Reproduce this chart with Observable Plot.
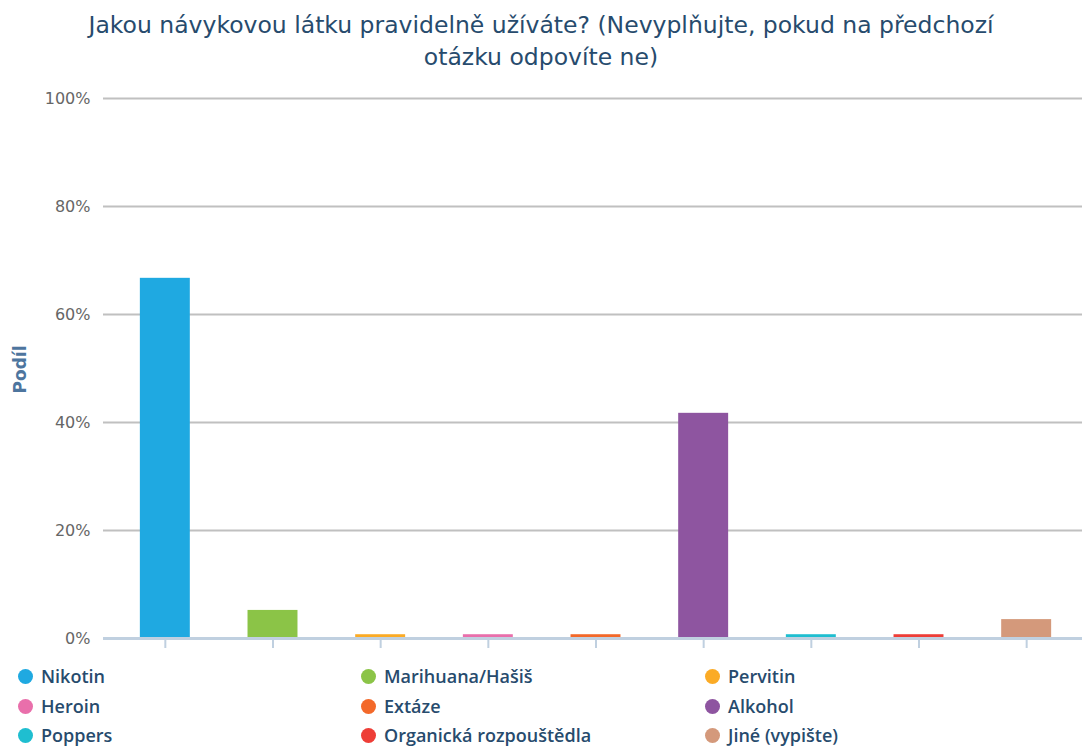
<!DOCTYPE html>
<html>
<head>
<meta charset="utf-8">
<script src="https://cdn.jsdelivr.net/npm/d3@7"></script>
<script src="https://cdn.jsdelivr.net/npm/@observablehq/plot@0.6"></script>
<style>
  body { margin: 0; background: #fff; font-family: "DejaVu Sans", sans-serif; }
  #wrap { width: 1082px; position: relative; }
  #title { height: 80px; text-align: center; color: #274b6d; font-size: 23.5px; line-height: 32px; padding-top: 9px; box-sizing: border-box; }
  #legend { position: relative; height: 92px; }
  .li { position: absolute; display: flex; align-items: center; height: 20px; line-height: 20px; font-family: "Open Sans", sans-serif; font-weight: 600; font-size: 18px; color: #274b6d; white-space: nowrap; }
  .dot { width: 15px; height: 15px; border-radius: 50%; margin-right: 8px; flex: none; }
</style>
</head>
<body>
<div id="wrap">
  <div id="title">Jakou návykovou látku pravidelně užíváte? (Nevyplňujte, pokud na předchozí<br>otázku odpovíte ne)</div>
  <div id="chart"></div>
  <div id="legend"></div>
</div>
<script>
const categories = ["Nikotin", "Marihuana/Hašiš", "Pervitin", "Heroin", "Extáze", "Alkohol", "Poppers", "Organická rozpouštědla", "Jiné (vypište)"];
const shares = [66.7, 5.2, 0.7, 0.7, 0.7, 41.7, 0.7, 0.7, 3.5];
const colors = ["#1fa9e1", "#8bc447", "#fbab26", "#e96fab", "#f3692a", "#8e55a0", "#1fbed0", "#ee3e37", "#d4997b"];
const yTicks = [0, 20, 40, 60, 80, 100];
const yLabel = "Podíl";

const data = categories.map((c, i) => ({category: c, share: shares[i], color: colors[i]}));

const chart = Plot.plot({
  width: 1082,
  height: 575,
  marginTop: 18,
  marginBottom: 17,
  marginLeft: 103,
  marginRight: 0,
  style: {fontFamily: "DejaVu Sans, sans-serif", background: "#fff"},
  x: {domain: categories, range: [111, 1080], paddingInner: 0.536, paddingOuter: 0.268, round: false},
  y: {domain: [0, 100], range: [558, 18]},
  marks: [
    Plot.ruleY(yTicks.filter(d => d > 0), {stroke: "#c0c0c0", strokeWidth: 2}),
    Plot.barY(data, {x: "category", y: "share", fill: "color"}),
    Plot.ruleY([0], {stroke: "#c0d0e0", strokeWidth: 3}),
    Plot.axisX({tickSize: 8, stroke: "#c0d0e0", strokeWidth: 2, tickFormat: () => "", label: null, dy: 2}),
    Plot.axisY(yTicks, {tickSize: 0, tickPadding: 13, tickFormat: d => d + "%", fill: "#666", fontSize: 16, label: null}),
    Plot.text([yLabel], {frameAnchor: "left", dx: -83, dy: 25, rotate: -90, fill: "#4d759e", fontWeight: "bold", fontSize: 17})
  ]
});
document.getElementById("chart").appendChild(chart);

const legend = document.getElementById("legend");
const colX = [18, 361, 705];
const rowY = [11, 41, 70];
categories.forEach((c, i) => {
  const el = document.createElement("div");
  el.className = "li";
  el.style.left = colX[i % 3] + "px";
  el.style.top = rowY[Math.floor(i / 3)] + "px";
  el.innerHTML = `<span class="dot" style="background:${colors[i]}"></span><span>${c}</span>`;
  legend.appendChild(el);
});
</script>
</body>
</html>
